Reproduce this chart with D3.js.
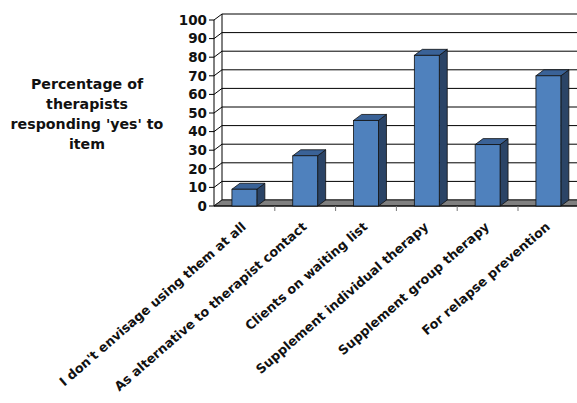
<!DOCTYPE html>
<html><head><meta charset="utf-8">
<script src="https://cdn.jsdelivr.net/npm/d3@7"></script>
<style>body{margin:0;background:#fff}svg{display:block}</style>
</head><body>
<script>
const categories = ["I don't envisage using them at all","As alternative to therapist contact","Clients on waiting list","Supplement individual therapy","Supplement group therapy","For relapse prevention"];
const values = [9, 27, 46, 81, 33, 70];
const yTicks = [0,10,20,30,40,50,60,70,80,90,100];
const titleLines = ["Percentage of","therapists","responding 'yes' to","item"];

const W=577,H=403;
const svg=d3.select("body").append("svg").attr("width",W).attr("height",H);
const x0=214, step=60.8, dx=8, dy=-6;
const x=d3.scaleBand().domain(categories).range([x0,x0+step*categories.length]).paddingInner(0.59).paddingOuter(0.295);
const y=d3.scaleLinear().domain([0,100]).range([206,20]);
const xr=x0+step*categories.length;

// back wall gridlines
svg.append("g").selectAll("line").data(yTicks).join("line")
 .attr("x1",x0+dx).attr("x2",xr+dx).attr("y1",d=>y(d)+dy).attr("y2",d=>y(d)+dy)
 .attr("stroke","#000").attr("stroke-width",1);
// side wall diagonals
svg.append("g").selectAll("line").data(yTicks).join("line")
 .attr("x1",x0).attr("x2",x0+dx).attr("y1",d=>y(d)).attr("y2",d=>y(d)+dy)
 .attr("stroke","#000").attr("stroke-width",1);
svg.append("line").attr("x1",x0+dx).attr("x2",x0+dx).attr("y1",y(0)+dy).attr("y2",y(100)+dy).attr("stroke","#000");
// floor
svg.append("path").attr("d",`M${x0},${y(0)}L${x0+dx},${y(0)+dy}L${xr+dx},${y(0)+dy}L${xr},${y(0)}Z`)
 .attr("fill","#808080").attr("stroke","#222").attr("stroke-width",1);
// front y axis
svg.append("line").attr("x1",x0).attr("x2",x0).attr("y1",y(0)).attr("y2",y(100)).attr("stroke","#000");
svg.append("g").selectAll("line").data(yTicks).join("line")
 .attr("x1",x0-5).attr("x2",x0).attr("y1",d=>y(d)).attr("y2",d=>y(d)).attr("stroke","#000");
svg.append("line").attr("x1",x0).attr("x2",xr).attr("y1",y(0)).attr("y2",y(0)).attr("stroke","#000");
// category ticks
svg.append("g").selectAll("line").data(d3.range(1,categories.length+1)).join("line")
 .attr("x1",d=>x0+d*step).attr("x2",d=>x0+d*step).attr("y1",y(0)).attr("y2",y(0)+5).attr("stroke","#777");
// y labels
svg.append("g").selectAll("text").data(yTicks).join("text")
 .attr("x",207).attr("y",d=>y(d)).attr("dy","0.36em").attr("text-anchor","end")
 .attr("font-family","DejaVu Sans").attr("font-weight","bold").attr("font-size",13.5).attr("fill","#111").text(d=>d);
// bars
const bars=svg.append("g").selectAll("g").data(categories).join("g");
const bw=x.bandwidth();
bars.append("path").attr("d",(c,i)=>{const l=x(c),t=y(values[i]),b=y(0);return `M${l+bw},${b}L${l+bw+dx},${b+dy}L${l+bw+dx},${t+dy}L${l+bw},${t}Z`;})
 .attr("fill","#2b4466").attr("stroke","#111").attr("stroke-width",0.8);
bars.append("path").attr("d",(c,i)=>{const l=x(c),t=y(values[i]);return `M${l},${t}L${l+dx},${t+dy}L${l+bw+dx},${t+dy}L${l+bw},${t}Z`;})
 .attr("fill","#3a6297").attr("stroke","#111").attr("stroke-width",0.8);
bars.append("rect").attr("x",c=>x(c)).attr("y",(c,i)=>y(values[i])).attr("width",bw).attr("height",(c,i)=>y(0)-y(values[i]))
 .attr("fill","#4f81bd").attr("stroke","#111").attr("stroke-width",0.8);
// x labels
svg.append("g").selectAll("text").data(categories).join("text")
 .attr("transform",c=>`translate(${x(c)+bw/2+2.5},${y(0)+22}) rotate(-41)`)
 .attr("text-anchor","end").attr("font-family","DejaVu Sans").attr("font-weight","bold").attr("font-size",12.8).attr("fill","#111").text(c=>c);
// title
svg.append("text").attr("font-family","DejaVu Sans").attr("font-weight","bold").attr("font-size",14.2).attr("fill","#111")
 .attr("text-anchor","middle").selectAll("tspan").data(titleLines).join("tspan")
 .attr("x",87).attr("y",(d,i)=>89+i*20).text(d=>d);
</script>
</body></html>
